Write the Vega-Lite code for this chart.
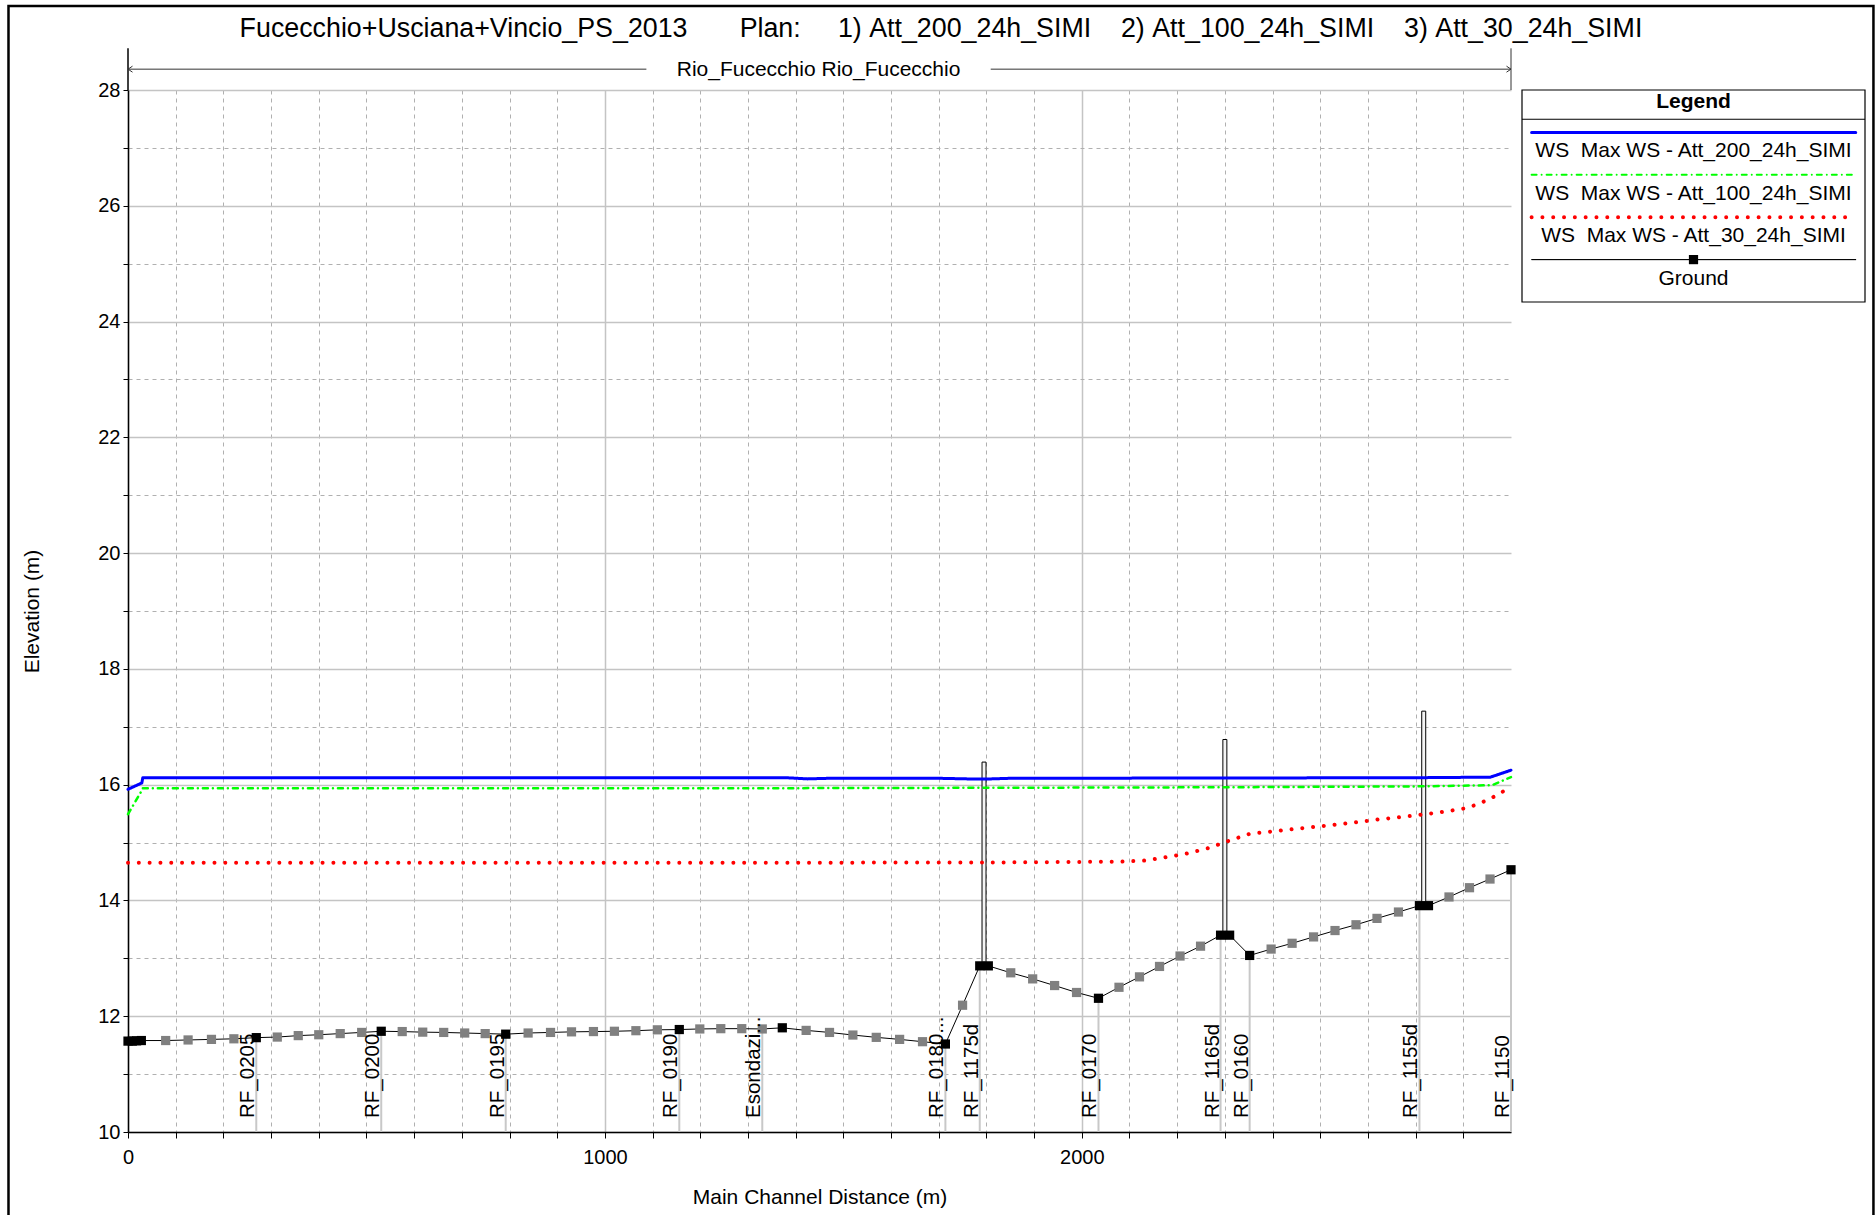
{
  "$schema": "https://vega.github.io/schema/vega-lite/v6.json",
  "width": 1383,
  "height": 1042,
  "autosize": {"type": "none"},
  "padding": {"left": 128, "top": 90, "right": 365, "bottom": 83},
  "background": "white",
  "config": {"view": {"stroke": null}, "font": "Liberation Sans"},
  "title": {
    "text": "Fucecchio+Usciana+Vincio_PS_2013\u00a0\u00a0\u00a0\u00a0\u00a0\u00a0\u00a0Plan:\u00a0\u00a0\u00a0\u00a0\u00a01)\u00a0Att_200_24h_SIMI\u00a0\u00a0\u00a0\u00a02)\u00a0Att_100_24h_SIMI\u00a0\u00a0\u00a0\u00a03)\u00a0Att_30_24h_SIMI",
    "font": "Liberation Sans",
    "fontSize": 26.8,
    "fontWeight": "normal",
    "color": "black",
    "anchor": "middle",
    "frame": "bounds",
    "baseline": "alphabetic",
    "offset": -59
  },
  "datasets": {
    "ground": [
      {"dist": 0, "elev": 11.57, "kind": "section"},
      {"dist": 9, "elev": 11.57, "kind": "section"},
      {"dist": 18, "elev": 11.575, "kind": "section"},
      {"dist": 28, "elev": 11.58, "kind": "section"},
      {"dist": 79, "elev": 11.58, "kind": "interp"},
      {"dist": 126, "elev": 11.59, "kind": "interp"},
      {"dist": 175, "elev": 11.6, "kind": "interp"},
      {"dist": 222, "elev": 11.61, "kind": "interp"},
      {"dist": 269, "elev": 11.63, "kind": "section", "label": "RF_0205"},
      {"dist": 313, "elev": 11.64, "kind": "interp"},
      {"dist": 357, "elev": 11.665, "kind": "interp"},
      {"dist": 400, "elev": 11.68, "kind": "interp"},
      {"dist": 445, "elev": 11.7, "kind": "interp"},
      {"dist": 490, "elev": 11.72, "kind": "interp"},
      {"dist": 531, "elev": 11.74, "kind": "section", "label": "RF_0200"},
      {"dist": 575, "elev": 11.735, "kind": "interp"},
      {"dist": 618, "elev": 11.725, "kind": "interp"},
      {"dist": 662, "elev": 11.72, "kind": "interp"},
      {"dist": 706, "elev": 11.71, "kind": "interp"},
      {"dist": 749, "elev": 11.7, "kind": "interp"},
      {"dist": 792, "elev": 11.69, "kind": "section", "label": "RF_0195"},
      {"dist": 839, "elev": 11.71, "kind": "interp"},
      {"dist": 886, "elev": 11.72, "kind": "interp"},
      {"dist": 930, "elev": 11.73, "kind": "interp"},
      {"dist": 976, "elev": 11.735, "kind": "interp"},
      {"dist": 1020, "elev": 11.74, "kind": "interp"},
      {"dist": 1065, "elev": 11.75, "kind": "interp"},
      {"dist": 1110, "elev": 11.765, "kind": "interp"},
      {"dist": 1156, "elev": 11.77, "kind": "section", "label": "RF_0190"},
      {"dist": 1199, "elev": 11.78, "kind": "interp"},
      {"dist": 1243, "elev": 11.785, "kind": "interp"},
      {"dist": 1287, "elev": 11.785, "kind": "interp"},
      {"dist": 1330, "elev": 11.78, "kind": "interp", "label": "Esondazi..."},
      {"dist": 1372, "elev": 11.8, "kind": "section"},
      {"dist": 1422, "elev": 11.755, "kind": "interp"},
      {"dist": 1471, "elev": 11.72, "kind": "interp"},
      {"dist": 1520, "elev": 11.675, "kind": "interp"},
      {"dist": 1569, "elev": 11.635, "kind": "interp"},
      {"dist": 1618, "elev": 11.6, "kind": "interp"},
      {"dist": 1666, "elev": 11.56, "kind": "interp"},
      {"dist": 1714, "elev": 11.52, "kind": "section", "label": "RF_0180..."},
      {"dist": 1750, "elev": 12.19, "kind": "interp"},
      {"dist": 1786, "elev": 12.87, "kind": "section", "label": "RF_1175d"},
      {"dist": 1804, "elev": 12.87, "kind": "section"},
      {"dist": 1851, "elev": 12.75, "kind": "interp"},
      {"dist": 1897, "elev": 12.645, "kind": "interp"},
      {"dist": 1943, "elev": 12.53, "kind": "interp"},
      {"dist": 1989, "elev": 12.41, "kind": "interp"},
      {"dist": 2035, "elev": 12.31, "kind": "section", "label": "RF_0170"},
      {"dist": 2078, "elev": 12.5, "kind": "interp"},
      {"dist": 2121, "elev": 12.68, "kind": "interp"},
      {"dist": 2163, "elev": 12.86, "kind": "interp"},
      {"dist": 2206, "elev": 13.04, "kind": "interp"},
      {"dist": 2249, "elev": 13.21, "kind": "interp"},
      {"dist": 2291, "elev": 13.4, "kind": "section", "label": "RF_1165d"},
      {"dist": 2310, "elev": 13.4, "kind": "section"},
      {"dist": 2352, "elev": 13.05, "kind": "section", "label": "RF_0160"},
      {"dist": 2397, "elev": 13.16, "kind": "interp"},
      {"dist": 2441, "elev": 13.26, "kind": "interp"},
      {"dist": 2486, "elev": 13.37, "kind": "interp"},
      {"dist": 2531, "elev": 13.48, "kind": "interp"},
      {"dist": 2575, "elev": 13.58, "kind": "interp"},
      {"dist": 2619, "elev": 13.69, "kind": "interp"},
      {"dist": 2664, "elev": 13.8, "kind": "interp"},
      {"dist": 2708, "elev": 13.91, "kind": "section", "label": "RF_1155d"},
      {"dist": 2727, "elev": 13.91, "kind": "section"},
      {"dist": 2770, "elev": 14.06, "kind": "interp"},
      {"dist": 2813, "elev": 14.22, "kind": "interp"},
      {"dist": 2856, "elev": 14.37, "kind": "interp"},
      {"dist": 2900, "elev": 14.53, "kind": "section", "label": "RF_1150"}
    ],
    "ws": [
      {"profile": "WS 200", "dist": 0, "elev": 15.92},
      {"profile": "WS 200", "dist": 29, "elev": 16.03},
      {"profile": "WS 200", "dist": 31, "elev": 16.12},
      {"profile": "WS 200", "dist": 1380, "elev": 16.12},
      {"profile": "WS 200", "dist": 1425, "elev": 16.1},
      {"profile": "WS 200", "dist": 1470, "elev": 16.11},
      {"profile": "WS 200", "dist": 1700, "elev": 16.11},
      {"profile": "WS 200", "dist": 1760, "elev": 16.1},
      {"profile": "WS 200", "dist": 1810, "elev": 16.1},
      {"profile": "WS 200", "dist": 1850, "elev": 16.11},
      {"profile": "WS 200", "dist": 2700, "elev": 16.12},
      {"profile": "WS 200", "dist": 2857, "elev": 16.13},
      {"profile": "WS 200", "dist": 2900, "elev": 16.25},
      {"profile": "WS 100", "dist": 0, "elev": 15.49},
      {"profile": "WS 100", "dist": 29, "elev": 15.9},
      {"profile": "WS 100", "dist": 31, "elev": 15.94},
      {"profile": "WS 100", "dist": 1400, "elev": 15.94},
      {"profile": "WS 100", "dist": 1750, "elev": 15.945},
      {"profile": "WS 100", "dist": 2300, "elev": 15.955},
      {"profile": "WS 100", "dist": 2700, "elev": 15.97},
      {"profile": "WS 100", "dist": 2860, "elev": 15.99},
      {"profile": "WS 100", "dist": 2900, "elev": 16.13},
      {"profile": "WS 30", "dist": 0, "elev": 14.65},
      {"profile": "WS 30", "dist": 1000, "elev": 14.65},
      {"profile": "WS 30", "dist": 1800, "elev": 14.655},
      {"profile": "WS 30", "dist": 2080, "elev": 14.67},
      {"profile": "WS 30", "dist": 2133, "elev": 14.69},
      {"profile": "WS 30", "dist": 2179, "elev": 14.75},
      {"profile": "WS 30", "dist": 2223, "elev": 14.815},
      {"profile": "WS 30", "dist": 2268, "elev": 14.91},
      {"profile": "WS 30", "dist": 2308, "elev": 15.03},
      {"profile": "WS 30", "dist": 2352, "elev": 15.15},
      {"profile": "WS 30", "dist": 2397, "elev": 15.19},
      {"profile": "WS 30", "dist": 2442, "elev": 15.23},
      {"profile": "WS 30", "dist": 2488, "elev": 15.27},
      {"profile": "WS 30", "dist": 2555, "elev": 15.33},
      {"profile": "WS 30", "dist": 2623, "elev": 15.4},
      {"profile": "WS 30", "dist": 2691, "elev": 15.46},
      {"profile": "WS 30", "dist": 2758, "elev": 15.53},
      {"profile": "WS 30", "dist": 2803, "elev": 15.59},
      {"profile": "WS 30", "dist": 2824, "elev": 15.645},
      {"profile": "WS 30", "dist": 2845, "elev": 15.715},
      {"profile": "WS 30", "dist": 2866, "elev": 15.8},
      {"profile": "WS 30", "dist": 2885, "elev": 15.89},
      {"profile": "WS 30", "dist": 2900, "elev": 15.96}
    ],
    "structures": [
      {"dist": 1795, "base": 12.87, "top": 16.39},
      {"dist": 2300, "base": 13.4, "top": 16.78},
      {"dist": 2717, "base": 13.91, "top": 17.27}
    ],
    "reach": [
      {"name": "Rio_Fucecchio Rio_Fucecchio", "start": 0, "end": 2900}
    ],
    "legend": [
      {"row": 1, "profile": "WS 200", "text": "WS\u00a0 Max WS - Att_200_24h_SIMI"},
      {"row": 2, "profile": "WS 100", "text": "WS\u00a0 Max WS - Att_100_24h_SIMI"},
      {"row": 3, "profile": "WS 30", "text": "WS\u00a0 Max WS - Att_30_24h_SIMI"},
      {"row": 4, "profile": "Ground", "text": "Ground"}
    ]
  },
  "layer": [
    {
      "layer": [
        {
          "data": {"name": "ground"},
          "transform": [{"filter": "datum.label != null"}],
          "mark": {"type": "rule", "color": "#c8c8c8", "strokeWidth": 2},
          "encoding": {
            "x": {
              "field": "dist", "type": "quantitative",
              "scale": {"domain": [0, 2900], "nice": false, "zero": false, "padding": 0},
              "axis": {
                "title": "Main Channel Distance (m)",
                "values": [0,100,200,300,400,500,600,700,800,900,1000,1100,1200,1300,1400,1500,1600,1700,1800,1900,2000,2100,2200,2300,2400,2500,2600,2700,2800],
                "format": "d",
                "labelExpr": "datum.value % 1000 === 0 ? datum.label : ''",
                "labelFlush": false,
                "labelOverlap": false,
                "labelFont": "Liberation Sans",
                "labelFontSize": 20,
                "labelColor": "black",
                "labelPadding": 9,
                "tickSize": 6,
                "tickColor": "black",
                "tickWidth": 1,
                "domainColor": "black",
                "domainWidth": 1.5,
                "grid": true,
                "gridColor": {"condition": {"test": "datum.value % 1000 === 0", "value": "#c4c4c4"}, "value": "#b0b0b0"},
                "gridDash": {"condition": {"test": "datum.value % 1000 === 0", "value": [1, 0]}, "value": [4, 4]},
                "gridWidth": {"condition": {"test": "datum.value % 1000 === 0", "value": 1.5}, "value": 1},
                "titleFont": "Liberation Sans",
                "titleFontSize": 21,
                "titleFontWeight": "normal",
                "titleColor": "black",
                "titleBaseline": "alphabetic",
                "titleY": 71
              }
            },
            "y": {
              "field": "elev", "type": "quantitative",
              "scale": {"domain": [10, 28], "nice": false, "zero": false, "padding": 0},
              "axis": {
                "title": "Elevation (m)",
                "values": [10,11,12,13,14,15,16,17,18,19,20,21,22,23,24,25,26,27,28],
                "format": "d",
                "labelExpr": "datum.value % 2 === 0 ? datum.label : ''",
                "labelFlush": false,
                "labelOverlap": false,
                "labelFont": "Liberation Sans",
                "labelFontSize": 20,
                "labelColor": "black",
                "labelPadding": 3,
                "tickSize": 5,
                "tickColor": "black",
                "tickWidth": 1,
                "domainColor": "black",
                "domainWidth": 1.5,
                "grid": true,
                "gridColor": {"condition": {"test": "datum.value % 2 === 0", "value": "#c4c4c4"}, "value": "#b0b0b0"},
                "gridDash": {"condition": {"test": "datum.value % 2 === 0", "value": [1, 0]}, "value": [4, 4]},
                "gridWidth": {"condition": {"test": "datum.value % 2 === 0", "value": 1.5}, "value": 1},
                "titleFont": "Liberation Sans",
                "titleFontSize": 21,
                "titleFontWeight": "normal",
                "titleColor": "black",
                "titleAngle": 270,
                "titleAlign": "center",
                "titleBaseline": "middle",
                "titleX": -96,
                "titleY": 521
              }
            },
            "y2": {"datum": 10}
          }
        },
        {
          "data": {"name": "structures"},
          "mark": {"type": "bar", "size": 4, "fill": "#f4f4f4", "stroke": "black", "strokeWidth": 1},
          "encoding": {
            "x": {"field": "dist", "type": "quantitative", "title": "Main Channel Distance (m)"},
            "y": {"field": "top", "type": "quantitative", "title": "Elevation (m)"},
            "y2": {"field": "base"}
          }
        },
        {
          "data": {"name": "ws"},
          "mark": {"type": "line", "strokeCap": "round", "strokeJoin": "round", "clip": false},
          "encoding": {
            "x": {"field": "dist", "type": "quantitative", "title": "Main Channel Distance (m)"},
            "y": {"field": "elev", "type": "quantitative", "title": "Elevation (m)"},
            "stroke": {"field": "profile", "type": "nominal", "scale": {"domain": ["WS 200", "WS 100", "WS 30", "Ground"], "range": ["#0000ff", "#00ff00", "#ff0000", "#000000"]}, "legend": null},
            "strokeDash": {"field": "profile", "type": "nominal", "scale": {"domain": ["WS 200", "WS 100", "WS 30", "Ground"], "range": [[1, 0], [5, 5, 0.01, 5], [0.01, 10.8], [1, 0]]}, "legend": null},
            "strokeWidth": {"field": "profile", "type": "nominal", "scale": {"type": "ordinal", "domain": ["WS 200", "WS 100", "WS 30", "Ground"], "range": [3, 2.5, 4, 1]}, "legend": null}
          }
        },
        {
          "data": {"name": "ground"},
          "mark": {"type": "line", "color": "black", "strokeWidth": 1},
          "encoding": {
            "x": {"field": "dist", "type": "quantitative", "title": "Main Channel Distance (m)"},
            "y": {"field": "elev", "type": "quantitative", "title": "Elevation (m)"}
          }
        },
        {
          "data": {"name": "ground"},
          "mark": {"type": "point", "shape": "square", "filled": true, "size": 85, "opacity": 1, "strokeWidth": 0, "clip": false},
          "encoding": {
            "x": {"field": "dist", "type": "quantitative", "title": "Main Channel Distance (m)"},
            "y": {"field": "elev", "type": "quantitative", "title": "Elevation (m)"},
            "fill": {"field": "kind", "type": "nominal", "scale": {"domain": ["interp", "section"], "range": ["#808080", "#000000"]}, "legend": null}
          }
        },
        {
          "data": {"name": "ground"},
          "transform": [{"filter": "datum.label != null"}],
          "mark": {"type": "text", "angle": 270, "align": "left", "baseline": "alphabetic", "dx": 14, "dy": -2, "font": "Liberation Sans", "fontSize": 20.5, "color": "black"},
          "encoding": {
            "x": {"field": "dist", "type": "quantitative", "title": "Main Channel Distance (m)"},
            "y": {"datum": 10, "type": "quantitative"},
            "text": {"field": "label"}
          }
        },
        {
          "data": {"name": "reach"},
          "mark": {"type": "rule", "color": "#333333", "strokeWidth": 1, "clip": false},
          "encoding": {"x": {"field": "start", "type": "quantitative"}, "x2": {"datum": 1087}, "y": {"datum": 28.36, "type": "quantitative"}}
        },
        {
          "data": {"name": "reach"},
          "mark": {"type": "rule", "color": "#333333", "strokeWidth": 1, "clip": false},
          "encoding": {"x": {"field": "end", "type": "quantitative"}, "x2": {"datum": 1809}, "y": {"datum": 28.36, "type": "quantitative"}}
        },
        {
          "data": {"name": "reach"},
          "mark": {"type": "rule", "color": "black", "strokeWidth": 1.5, "clip": false},
          "encoding": {"x": {"field": "start", "type": "quantitative"}, "y": {"datum": 28, "type": "quantitative"}, "y2": {"datum": 28.72}}
        },
        {
          "data": {"name": "reach"},
          "mark": {"type": "rule", "color": "#333333", "strokeWidth": 1, "clip": false},
          "encoding": {"x": {"field": "end", "type": "quantitative"}, "y": {"datum": 28, "type": "quantitative"}, "y2": {"datum": 28.72}}
        },
        {
          "data": {"name": "reach"},
          "mark": {"type": "point", "shape": "M1.5,-1L0,0L1.5,1", "filled": false, "size": 36, "color": "#333333", "strokeWidth": 1, "opacity": 1, "clip": false},
          "encoding": {"x": {"field": "start", "type": "quantitative"}, "y": {"datum": 28.36, "type": "quantitative"}}
        },
        {
          "data": {"name": "reach"},
          "mark": {"type": "point", "shape": "M-1.5,-1L0,0L-1.5,1", "filled": false, "size": 36, "color": "#333333", "strokeWidth": 1, "opacity": 1, "clip": false},
          "encoding": {"x": {"field": "end", "type": "quantitative"}, "y": {"datum": 28.36, "type": "quantitative"}}
        },
        {
          "data": {"name": "reach"},
          "mark": {"type": "text", "font": "Liberation Sans", "fontSize": 21, "color": "black", "baseline": "middle", "align": "center", "clip": false},
          "encoding": {"x": {"datum": 1448, "type": "quantitative"}, "y": {"datum": 28.35, "type": "quantitative"}, "text": {"field": "name"}}
        },
        {
          "data": {"name": "reach"},
          "mark": {"type": "rect", "fill": "transparent", "stroke": "black", "strokeWidth": 2.5, "clip": false},
          "encoding": {"x": {"datum": -250.6, "type": "quantitative"}, "x2": {"datum": 3660}, "y": {"datum": 29.45, "type": "quantitative"}, "y2": {"datum": 8.3}}
        }
      ]
    },
    {
      "data": {"name": "legend"},
      "layer": [
        {
          "transform": [{"filter": "datum.row === 1"}],
          "mark": {"type": "rect", "fill": "white", "stroke": "black", "strokeWidth": 1.2},
          "encoding": {
            "x": {"datum": 0, "type": "quantitative", "scale": {"domain": [0, 1], "range": [1394, 1737]}, "axis": null},
            "x2": {"datum": 1},
            "y": {"datum": 0, "type": "quantitative", "scale": {"domain": [0, 5], "range": [0, 212]}, "axis": null},
            "y2": {"datum": 5}
          }
        },
        {
          "transform": [{"filter": "datum.row === 1"}],
          "mark": {"type": "text", "text": "Legend", "font": "Liberation Sans", "fontSize": 21, "fontWeight": "bold", "color": "black", "align": "center", "baseline": "alphabetic"},
          "encoding": {"x": {"datum": 0.5, "type": "quantitative"}, "y": {"datum": 0.42, "type": "quantitative"}}
        },
        {
          "transform": [{"filter": "datum.row === 1"}],
          "mark": {"type": "rule", "color": "black", "strokeWidth": 1},
          "encoding": {"x": {"datum": 0, "type": "quantitative"}, "x2": {"datum": 1}, "y": {"datum": 0.69, "type": "quantitative"}}
        },
        {
          "mark": {"type": "rule", "strokeCap": "round"},
          "encoding": {
            "x": {"datum": 0.028, "type": "quantitative"},
            "x2": {"datum": 0.973},
            "y": {"field": "row", "type": "quantitative"},
            "stroke": {"field": "profile", "type": "nominal", "legend": null},
            "strokeDash": {"field": "profile", "type": "nominal", "legend": null},
            "strokeWidth": {"field": "profile", "type": "nominal", "legend": null}
          }
        },
        {
          "transform": [{"filter": "datum.row === 4"}],
          "mark": {"type": "point", "shape": "square", "filled": true, "size": 85, "color": "black", "opacity": 1, "strokeWidth": 0},
          "encoding": {"x": {"datum": 0.5, "type": "quantitative"}, "y": {"field": "row", "type": "quantitative"}}
        },
        {
          "mark": {"type": "text", "font": "Liberation Sans", "fontSize": 21, "color": "black", "align": "center", "baseline": "alphabetic", "dy": 25},
          "encoding": {"x": {"datum": 0.5, "type": "quantitative"}, "y": {"field": "row", "type": "quantitative"}, "text": {"field": "text"}}
        }
      ]
    }
  ],
  "resolve": {"scale": {"x": "independent", "y": "independent"}}
}
